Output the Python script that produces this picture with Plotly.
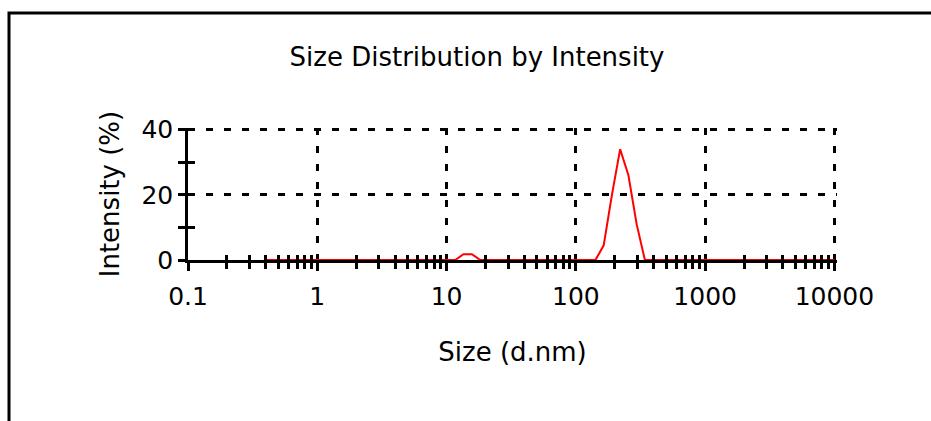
import plotly.graph_objects as go

# Data
size_nm = [0.4, 10.1, 11.7, 13.5, 15.7, 18.2, 122.4, 141.8, 164.2, 190.1,
           220.2, 255.0, 295.3, 342.0, 396.1, 10000]
intensity_pct = [0, 0, 0, 1.8, 1.8, 0, 0, 0, 4.5, 20, 34, 26, 11, 0, 0, 0]

x_tick_vals = [0.1, 1, 10, 100, 1000, 10000]
x_tick_text = ["0.1", "1", "10", "100", "1000", "10000"]
x_minor_vals = [m * d for d in [0.1, 1, 10, 100, 1000] for m in range(2, 10)]
y_tick_vals = [0, 20, 40]
y_minor_vals = [10, 30]

FONT = "DejaVu Sans"

fig = go.Figure()
fig.add_trace(go.Scatter(x=size_nm, y=intensity_pct, mode="lines",
                         line=dict(color="#ff0000", width=2),
                         showlegend=False, hoverinfo="skip"))
# invisible trace to activate the overlay axes (inside half of crossing ticks)
fig.add_trace(go.Scatter(x=size_nm, y=intensity_pct, mode="lines",
                         line=dict(color="rgba(0,0,0,0)", width=0),
                         xaxis="x2", yaxis="y2",
                         showlegend=False, hoverinfo="skip"))

W, H = 931, 421
L, R, T, B = 188, 94, 128, 161
pw, ph = W - L - R, H - T - B
XR = [-1, 4.02]
YR = [0, 40.5]

def px(xp):
    return (xp - L) / pw

def py(yp):
    return (H - B - yp) / ph

grid = dict(showgrid=True, gridcolor="black", gridwidth=2.5, griddash="7px,11px")

fig.update_layout(
    width=W, height=H,
    margin=dict(l=L, r=R, t=T, b=B),
    paper_bgcolor="white", plot_bgcolor="white",
    font=dict(family=FONT, color="black"),
    title=dict(text="Size Distribution by Intensity", x=477 / W, y=1 - 57 / H,
               xanchor="center", yanchor="middle", xref="container", yref="container",
               font=dict(size=26, family=FONT, color="black")),
    xaxis=dict(type="log", range=XR, tickmode="array",
               tickvals=x_tick_vals, ticktext=x_tick_text,
               ticks="outside", ticklen=8, tickwidth=2.5, tickcolor="black",
               tickfont=dict(size=25, family=FONT, color="black"),
               ticklabelstandoff=4,
               showline=True, linecolor="black", linewidth=2.5,
               minor=dict(tickvals=x_minor_vals, ticks="outside", ticklen=6,
                          tickwidth=2.5, tickcolor="black", showgrid=False),
               zeroline=False,
               title=dict(text="Size (d.nm)", font=dict(size=26, family=FONT, color="black"),
                          standoff=34),
               **grid),
    yaxis=dict(range=YR, tickmode="array", tickvals=y_tick_vals,
               ticks="outside", ticklen=7, tickwidth=2.5, tickcolor="black",
               tickfont=dict(size=25, family=FONT, color="black"),
               showline=True, linecolor="black", linewidth=2.5,
               minor=dict(tickvals=y_minor_vals, ticks="outside", ticklen=7,
                          tickwidth=2.5, tickcolor="black", showgrid=False),
               zeroline=False,
               title=dict(text="Intensity (%)", font=dict(size=26, family=FONT, color="black"),
                          standoff=15),
               **grid),
    xaxis2=dict(type="log", range=XR, overlaying="x", anchor="y", side="bottom",
                tickmode="array", tickvals=x_minor_vals, ticks="inside", ticklen=5,
                tickwidth=2.5, tickcolor="black", showticklabels=False,
                showgrid=False, showline=False, zeroline=False),
    yaxis2=dict(range=YR, overlaying="y", anchor="x", side="left",
                tickmode="array", tickvals=y_minor_vals, ticks="inside", ticklen=7,
                tickwidth=2.5, tickcolor="black", showticklabels=False,
                showgrid=False, showline=False, zeroline=False),
    shapes=[dict(type="path", xref="paper", yref="paper",
                 path=f"M {px(9)},{py(H + 5)} L {px(9)},{py(13)} L {px(W + 5)},{py(13)}",
                 line=dict(color="black", width=3))],
)

fig.write_html("out.html")
